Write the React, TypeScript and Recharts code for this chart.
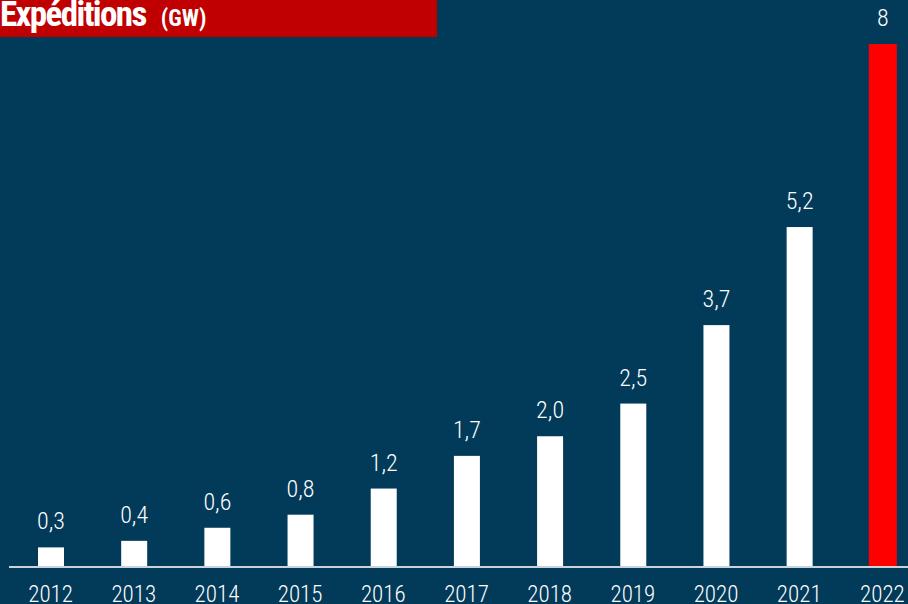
import { BarChart, Bar, XAxis, YAxis, LabelList, Cell } from 'recharts';

const years = ['2012', '2013', '2014', '2015', '2016', '2017', '2018', '2019', '2020', '2021', '2022'];
const capacity = [0.3, 0.4, 0.6, 0.8, 1.2, 1.7, 2.0, 2.5, 3.7, 5.2, 8];
const valueLabels = ['0,3', '0,4', '0,6', '0,8', '1,2', '1,7', '2,0', '2,5', '3,7', '5,2', '8'];

const BG = '#023a59';
const FONT = "'Roboto Condensed', 'Liberation Sans Narrow', 'DejaVu Sans Condensed', Roboto, sans-serif";

const chartData = years.map((y, i) => ({ year: y, value: capacity[i], label: valueLabels[i] }));

// last bar is a touch wider than the others
const BarShape = (props: any) => {
  const { x, y, width, height, fill, index } = props;
  const extra = index === years.length - 1 ? 1 : 0;
  return <rect x={x - extra} y={y} width={width + extra * 2} height={height} fill={fill} />;
};

export default function App() {
  return (
    <div style={{ position: 'fixed', left: 0, top: 0, width: 908, height: 604, overflow: 'hidden', background: BG, fontFamily: FONT }}>
      <BarChart width={924} height={604} data={chartData} margin={{ top: 44, right: 0, bottom: 0, left: 9 }}>
        <XAxis
          dataKey="year"
          height={37}
          tickLine={false}
          tickMargin={13}
          axisLine={{ stroke: '#c9d3dc', strokeWidth: 2 }}
          tick={{ fill: '#ffffff', fontSize: 23, fontFamily: FONT, fontWeight: 300 }}
          interval={0}
        />
        <YAxis hide domain={[0, 8]} />
        <Bar dataKey="value" barSize={26} isAnimationActive={false} shape={<BarShape />}>
          {chartData.map((d, i) => (
            <Cell key={`c-${i}`} fill={i === chartData.length - 1 ? '#ff0000' : '#ffffff'} />
          ))}
          <LabelList dataKey="label" position="top" offset={18} fill="#ffffff" fontSize={24} fontFamily={FONT} fontWeight={300} />
        </Bar>
      </BarChart>
      <div style={{ position: 'absolute', left: 0, top: 0, width: 437, height: 37, background: '#c00000', color: '#fff', fontWeight: 700, whiteSpace: 'nowrap', overflow: 'hidden' }}>
        <span style={{ position: 'absolute', left: 0, top: -8, fontSize: 35, lineHeight: '46px', letterSpacing: -1.6 }}>
          Expéditions
          <span style={{ fontSize: 23, marginLeft: 15, letterSpacing: 0 }}>(GW)</span>
        </span>
      </div>
    </div>
  );
}
